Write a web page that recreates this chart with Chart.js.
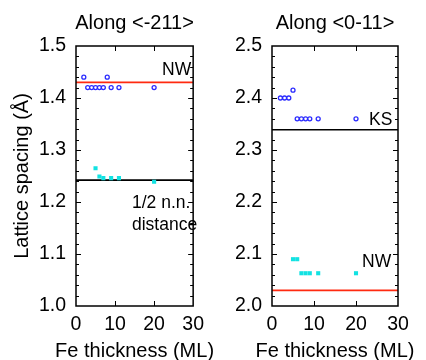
<!DOCTYPE html>
<html><head><meta charset="utf-8">
<script src="https://cdn.jsdelivr.net/npm/chart.js@4/dist/chart.umd.min.js"></script>
<style>
html,body{margin:0;padding:0;background:#fff;width:426px;height:360px;overflow:hidden}
canvas{position:absolute;top:0}
#c1{left:0}
#c2{left:213px}
</style></head><body>
<canvas id="c1" width="213" height="360"></canvas>
<canvas id="c2" width="213" height="360"></canvas>
<script>
// ---- data ----
const titles = ["Along <-211>", "Along <0-11>"];
const xTitle = "Fe thickness (ML)";
const yTitle = "Lattice spacing (Å)";
const xTicks = [0, 10, 20, 30];

// panel A: along <-211>
const aBlueX = [2, 3, 4, 5, 6, 7, 8, 9, 11, 20];
const aBlueY = [1.44, 1.42, 1.42, 1.42, 1.42, 1.42, 1.44, 1.42, 1.42, 1.42];
const aCyanX = [5, 6, 7, 9, 11, 20];
const aCyanY = [1.265, 1.249, 1.246, 1.246, 1.246, 1.239];
const aNW = 1.43;
const aHalfNN = 1.242;
const aYRange = [1.0, 1.5];

// panel B: along <0-11>
const bBlueX = [2, 3, 4, 5, 6, 7, 8, 9, 11, 20];
const bBlueY = [2.40, 2.40, 2.40, 2.415, 2.36, 2.36, 2.36, 2.36, 2.36, 2.36];
const bCyanX = [5, 6, 7, 8, 9, 11, 20];
const bCyanY = [2.09, 2.09, 2.063, 2.063, 2.063, 2.063, 2.063];
const bKS = 2.339;
const bNW = 2.03;
const bYRange = [2.0, 2.5];

const FONT = "'Liberation Sans', Arial, Helvetica, sans-serif";
const BLUE = '#2b2bff', CYAN = '#12e2e2', RED = '#ff2a10';

function pts(xs, ys) { return xs.map((x, i) => ({x: x, y: ys[i]})); }
function hline(v) { return [{x: 0, y: v}, {x: 30, y: v}]; }

function framePlugin(title, notes) {
  return {
    id: 'frame',
    afterDraw(chart) {
      const ctx = chart.ctx, a = chart.chartArea;
      const xs = chart.scales.x, ys = chart.scales.y;
      ctx.save();
      ctx.strokeStyle = '#000';
      ctx.lineWidth = 1.5;
      ctx.strokeRect(a.left, a.top, a.right - a.left, a.bottom - a.top);
      ctx.lineWidth = 1;
      ctx.beginPath();
      // x ticks inward top & bottom
      [10, 20].forEach(v => {
        const px = Math.round(xs.getPixelForValue(v)) + 0.5;
        ctx.moveTo(px, a.bottom); ctx.lineTo(px, a.bottom - 5);
        ctx.moveTo(px, a.top); ctx.lineTo(px, a.top + 5);
      });
      // y ticks: minor every 0.02, major every 0.1
      const y0 = ys.min;
      for (let i = 1; i < 25; i++) {
        const v = y0 + i * 0.02;
        const py = Math.round(ys.getPixelForValue(v)) + 0.5;
        const len = (i % 5 === 0) ? 5 : 3;
        ctx.moveTo(a.left, py); ctx.lineTo(a.left + len, py);
        ctx.moveTo(a.right, py); ctx.lineTo(a.right - len, py);
      }
      ctx.stroke();
      ctx.fillStyle = '#000';
      ctx.textBaseline = 'alphabetic';
      ctx.textAlign = 'center';
      ctx.font = '20px ' + FONT;
      // panel title
      ctx.fillText(title, (a.left + a.right) / 2, 29);
      // x axis title
      ctx.fillText(xTitle, (a.left + a.right) / 2, 357);
      // annotations
      ctx.font = '17.5px ' + FONT;
      notes.forEach(n => {
        ctx.textAlign = n.align || 'left';
        ctx.fillText(n.text, n.x, n.y);
      });
      ctx.restore();
    }
  };
}

function makeChart(id, yr, blue, cyan, lines, title, notes, showYTitle, yWidth, padRight) {
  const datasets = [
    {data: blue, showLine: false, pointStyle: 'circle', pointRadius: 2, pointBorderWidth: 1.3,
     pointBorderColor: BLUE, pointBackgroundColor: '#fff'},
    {data: cyan, showLine: false, pointStyle: 'rect', pointRadius: 2.9, pointBorderWidth: 0,
     pointBackgroundColor: CYAN, pointBorderColor: CYAN},
  ];
  lines.forEach(l => datasets.push({data: l.data, showLine: true, pointRadius: 0,
     borderColor: l.color, borderWidth: 1.6, fill: false}));
  return new Chart(document.getElementById(id), {
    type: 'scatter',
    data: {datasets: datasets},
    options: {
      responsive: false, animation: false,
      layout: {padding: {top: 46, right: padRight, left: 0, bottom: 0}},
      plugins: {legend: {display: false}, tooltip: {enabled: false}},
      scales: {
        x: {type: 'linear', min: 0, max: 30,
            afterBuildTicks: s => { s.ticks = xTicks.map(v => ({value: v})); },
            afterFit: s => { s.height = 54; },
            grid: {display: false, drawTicks: false}, border: {display: false},
            ticks: {padding: 9, color: '#000', font: {family: FONT, size: 19.5, lineHeight: 1}},
            title: {display: false}},
        y: {type: 'linear', min: yr[0], max: yr[1],
            afterBuildTicks: s => { const t = []; for (let i = 0; i <= 5; i++) t.push({value: +(yr[0] + i * 0.1).toFixed(1)}); s.ticks = t; },
            afterFit: s => { s.width = yWidth; },
            grid: {display: false, drawTicks: false}, border: {display: false},
            ticks: {padding: 10, color: '#000', font: {family: FONT, size: 19.5, lineHeight: 1},
                    callback: v => v.toFixed(1)},
            title: {display: showYTitle, text: yTitle, color: '#000', padding: {top: 12, bottom: 0},
                    font: {family: FONT, size: 20, lineHeight: 1}}}
      }
    },
    plugins: [framePlugin(title, notes)]
  });
}

makeChart('c1', aYRange, pts(aBlueX, aBlueY), pts(aCyanX, aCyanY),
  [{data: hline(aNW), color: RED}, {data: hline(aHalfNN), color: '#000'}],
  titles[0],
  [{text: 'NW', x: 162, y: 75}, {text: '1/2 n.n.', x: 132, y: 208}, {text: 'distance', x: 132, y: 230}],
  true, 76, 11);

makeChart('c2', bYRange, pts(bBlueX, bBlueY), pts(bCyanX, bCyanY),
  [{data: hline(bKS), color: '#000'}, {data: hline(bNW), color: RED}],
  titles[1],
  [{text: 'KS', x: 156, y: 125}, {text: 'NW', x: 149, y: 267}],
  false, 59, 28);
</script>
</body></html>
